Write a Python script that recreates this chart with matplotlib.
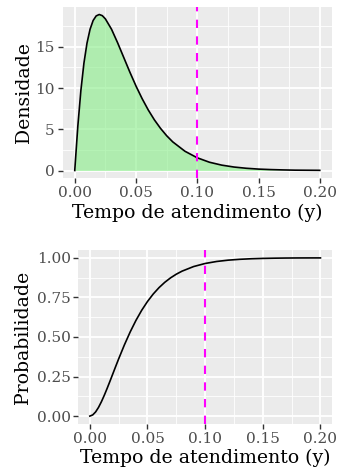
import matplotlib

matplotlib.use("Agg")
import matplotlib.pyplot as plt
from matplotlib.ticker import FixedLocator

# tempo de atendimento (y) e valores
tempo = [0.0, 0.0025, 0.005, 0.0075, 0.01, 0.0125, 0.015, 0.0175, 0.02,
         0.0225, 0.025, 0.03, 0.035, 0.04, 0.045, 0.05, 0.055, 0.06, 0.065,
         0.07, 0.075, 0.08, 0.09, 0.10, 0.11, 0.12, 0.13, 0.14, 0.15, 0.16,
         0.17, 0.18, 0.19, 0.20]
densidade = [0.0, 5.35, 9.69, 13.02, 15.44, 17.12, 18.18, 18.74, 18.91,
             18.77, 18.38, 17.13, 15.48, 13.70, 11.92, 10.24, 8.71, 7.34, 6.14,
             5.11, 4.22, 3.47, 2.33, 1.54, 1.00, 0.65, 0.42, 0.27, 0.17, 0.11,
             0.07, 0.04, 0.03, 0.02]
probabilidade = [0.0, 0.0074, 0.0262, 0.0546, 0.0902, 0.1309, 0.1750, 0.2212,
                 0.2683, 0.3154, 0.3618, 0.4506, 0.5321, 0.6051, 0.6692,
                 0.7246, 0.7720, 0.8121, 0.8458, 0.8739, 0.8972, 0.9164,
                 0.9454, 0.9648, 0.9775, 0.9858, 0.9912, 0.9947, 0.9969,
                 0.9983, 0.9992, 0.9997, 0.9999, 1.0]
corte = 0.10

x_ticks = [0.00, 0.05, 0.10, 0.15, 0.20]
x_labels = ["0.00", "0.05", "0.10", "0.15", "0.20"]
dens_ticks = [0, 5, 10, 15]
prob_ticks = [0.00, 0.25, 0.50, 0.75, 1.00]
prob_labels = ["0.00", "0.25", "0.50", "0.75", "1.00"]

plt.rcParams["font.family"] = ["DejaVu Serif"]

W, H = 338, 474
fig = plt.figure(figsize=(W / 100, H / 100), dpi=100)
fig.patch.set_facecolor("white")


def gg_axes(rect):
    ax = fig.add_axes(rect)
    ax.set_facecolor("#EBEBEB")
    for s in ax.spines.values():
        s.set_visible(False)
    ax.tick_params(colors="#333333", labelcolor="#4D4D4D", labelsize=11,
                   length=3.5, width=1.0, pad=2)
    ax.grid(True, which="major", color="white", linewidth=1.3)
    ax.grid(True, which="minor", color="white", linewidth=0.6)
    ax.tick_params(which="minor", length=0)
    ax.set_axisbelow(True)
    return ax


def px_rect(left, top, right, bottom):
    return [left / W, 1 - bottom / H, (right - left) / W, (bottom - top) / H]


# densidade
ax1 = gg_axes(px_rect(62.5, 6.7, 332, 178.3))
ax1.fill_between(tempo, densidade, color="lightgreen", alpha=0.65, linewidth=0)
ax1.plot(tempo, densidade, color="black", linewidth=1.2)
ax1.axvline(corte, color="magenta", linewidth=1.5, linestyle=(0, (4, 4)))
ax1.set_xlim(-0.01, 0.21)
ymax = max(densidade)
ax1.set_ylim(-0.05 * ymax, 1.05 * ymax)
ax1.set_xticks(x_ticks, x_labels)
ax1.set_yticks(dens_ticks)
ax1.xaxis.set_minor_locator(FixedLocator([0.025, 0.075, 0.125, 0.175]))
ax1.yaxis.set_minor_locator(FixedLocator([2.5, 7.5, 12.5, 17.5]))
ax1.set_xlabel("Tempo de atendimento (y)", fontsize=13.6, labelpad=3)
ax1.set_ylabel("Densidade", fontsize=13.6, labelpad=2)

# probabilidade acumulada
ax2 = gg_axes(px_rect(78.3, 250, 332, 424))
ax2.plot(tempo, probabilidade, color="black", linewidth=1.2)
ax2.axvline(corte, color="magenta", linewidth=1.5, linestyle=(0, (4, 4)))
ax2.set_xlim(-0.01, 0.21)
ax2.set_ylim(-0.05, 1.05)
ax2.set_xticks(x_ticks, x_labels)
ax2.set_yticks(prob_ticks, prob_labels)
ax2.xaxis.set_minor_locator(FixedLocator([0.025, 0.075, 0.125, 0.175]))
ax2.yaxis.set_minor_locator(FixedLocator([0.125, 0.375, 0.625, 0.875]))
ax2.set_xlabel("Tempo de atendimento (y)", fontsize=13.6, labelpad=2)
ax2.set_ylabel("Probabilidade", fontsize=13.6, labelpad=3)

fig.savefig("out.png", dpi=100)
